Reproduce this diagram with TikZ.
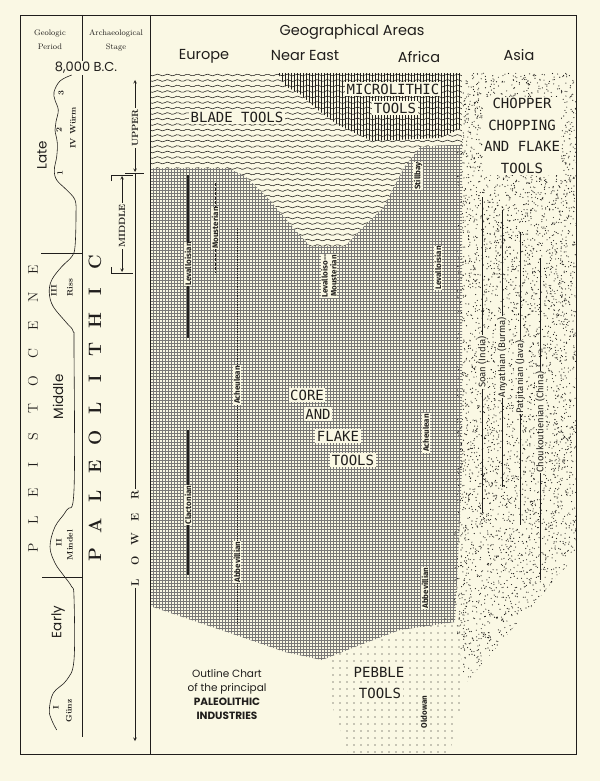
\documentclass[tikz,border=0pt]{standalone}
\usepackage{fontspec}
\usepackage{tikz}
\usetikzlibrary{calc}
\newfontfamily\geofont{Poppins}
\newfontfamily\letterfont{DejaVu Sans Mono}
\newfontfamily\smallsans{Fira Sans}
\definecolor{paper}{RGB}{250,248,228}
\definecolor{ink}{RGB}{32,30,28}
\tikzset{>=stealth}
\tikzset{
  stencil/.style={font=\letterfont\fontsize{14}{21.5}\selectfont, fill=paper, inner sep=1.5pt, align=center, text=ink},
  culture/.style={rotate=90, font=\smallsans\bfseries\fontsize{8}{9}\selectfont, fill=paper, inner sep=0.6pt, text=ink},
  asiaculture/.style={culture, font=\smallsans\fontsize{9.5}{10}\selectfont},
  area/.style={font=\geofont\fontsize{14.5}{15}\selectfont, text=ink},
  spaced/.style={rotate=90, font=\rmfamily\fontsize{14}{14}\selectfont, text=ink},
  period/.style={rotate=90, font=\geofont\fontsize{13.5}{14}\selectfont, text=ink},
  glacial/.style={rotate=90, font=\rmfamily\bfseries\fontsize{8}{8}\selectfont, text=ink, inner sep=0.5pt},
  stage/.style={rotate=90, font=\rmfamily\bfseries\fontsize{9}{9}\selectfont, fill=paper, inner sep=1pt, text=ink},
}
\newcommand\bladeoutline{(150,73) -- (462,73) -- (462,143) -- (420,147) -- (405,166) -- (392,190) -- (383,208) -- (362,228) -- (345,246) -- (310,246) -- (292,226) -- (268,198) -- (245,176) -- (228,168) -- (150,168) -- cycle}

\begin{document}
\begin{tikzpicture}[x=1pt,y=-1pt]
    \fill[paper] (0,0) rectangle (600,781);
    \useasboundingbox (0,0) rectangle (600,781);

    % Asia stipple
    \begin{scope}
        \clip (456,73) -- (576,73) -- (576,555) -- (465,684) -- (452,600) -- (456,480) -- cycle;
        \pgfmathsetseed{11}
        \foreach \i in {1,...,5200}
            \fill[ink] ({453+124*rnd},{73+612*rnd}) circle (0.58);
    \end{scope}

    % core and flake grid
    \begin{scope}
        \clip (150,150) -- (462,145) -- (462,470) -- (458,560) -- (455,622) -- (400,630) -- (360,645) -- (322,660) -- (285,652) -- (230,633) -- (150,606) -- cycle;
        \foreach \gx in {150,153,...,465}
            \draw[ink!60, line width=0.3] (\gx,145) -- (\gx,662);
        \foreach \gy in {145,148,...,662}
            \draw[ink!60, line width=0.3] (150,\gy) -- (465,\gy);
    \end{scope}

    % pebble dots
    \begin{scope}
        \clip (328,656) -- (380,640) -- (462,612) -- (464,690) -- (450,753) -- (348,753) -- (330,700) -- cycle;
        \foreach \dx in {326,333,...,466}
            \foreach \dy in {612,619,...,753}
                \fill[ink] (\dx,\dy) circle (0.7);
    \end{scope}

    % blade tools waves
    \fill[paper] \bladeoutline;
    \begin{scope}
        \clip \bladeoutline;
        \foreach \wy in {75,80.5,...,248}
            \draw[ink, line width=0.55] plot[domain=0:312, samples=130, smooth] ({150+\x},{\wy+0.9*sin(36*\x)});
    \end{scope}

    % microlithic lines
    \begin{scope}
        \clip (278,73) -- (462,73) -- (462,128) -- (440,138) -- (372,141) -- (338,125) -- (318,110) -- (300,94) -- (285,86) -- cycle;
        \foreach \vx in {279,282,...,462}
            \draw[ink, line width=0.5] (\vx,73) -- (\vx,142);
    \end{scope}

    % tool labels
    \node[stencil] (blade) at (237,117) {BLADE TOOLS};
    \node[stencil] (micro) at (393,89) {MICROLITHIC};
    \node[stencil] (microtools) at (395,108) {TOOLS};
    \node[stencil] (chopper) at (522,136) {CHOPPER\\CHOPPING\\AND FLAKE\\TOOLS};
    \node[stencil] (core) at (307,395) {CORE};
    \node[stencil] (coreand) at (318,414) {AND};
    \node[stencil] (coreflake) at (338,436) {FLAKE};
    \node[stencil] (coretools) at (353,460) {TOOLS};
    \node[stencil] (pebble) at (379,672) {PEBBLE};
    \node[stencil] (pebbletools) at (380,693) {TOOLS};

    % Europe
    \node[culture] (levE) at (188,264) {Levalloisian};
    \coordinate (levEtop) at (188,175);
    \coordinate (levEbot) at (188,338);
    \draw[ink, line width=1.4] (levEtop) -- (levE.east);
    \draw[ink, line width=1.4] (levE.west) -- (levEbot);
    \node[culture] (mouE) at (215,228) {Mousterian};
    \coordinate (mouEtop) at (215,183);
    \coordinate (mouEbot) at (215,273);
    \draw[ink, line width=0.8, dash pattern=on 3pt off 1.5pt] (mouEtop) -- (mouE.east);
    \draw[ink, line width=0.8, dash pattern=on 3pt off 1.5pt] (mouE.west) -- (mouEbot);
    \node[culture] (achE) at (237,385) {Acheulean};
    \node[culture] (abbE) at (237,562) {Abbevillian};
    \coordinate (achEtop) at (237,228);
    \coordinate (abbEbot) at (237,623);
    \draw[ink, line width=0.8, dash pattern=on 1pt off 0.8pt] (achEtop) -- (achE.east);
    \draw[ink, line width=0.8, dash pattern=on 1pt off 0.8pt] (achE.west) -- (abbE.east);
    \draw[ink, line width=0.8, dash pattern=on 1pt off 0.8pt] (abbE.west) -- (abbEbot);
    \node[culture] (claE) at (188,505) {Clactonian};
    \coordinate (claEtop) at (188,430);
    \coordinate (claEbot) at (188,575);
    \draw[ink, line width=1.4] (claEtop) -- (claE.east);
    \draw[ink, line width=1.4] (claE.west) -- (claEbot);

    % Near East
    \node[culture, align=center, font=\smallsans\bfseries\fontsize{8}{9}\selectfont] (levmou) at (329,276) {Levalloiso--\\Mousterian};

    % Africa
    \node[culture] (stillbay) at (418,176) {Stillbay};
    \node[culture] (levA) at (438,268) {Levalloisian};
    \node[culture] (achA) at (426,433) {Acheulean};
    \node[culture] (abbA) at (425,588) {Abbevillian};
    \node[culture] (oldowan) at (424,712) {Oldowan};

    % Asia
    \node[asiaculture] (soan) at (482,362) {Soan (India)};
    \coordinate (soantop) at (482,197);
    \coordinate (soanbot) at (482,513);
    \draw[ink, line width=0.6] (soantop) -- (soan.east);
    \draw[ink, line width=0.6] (soan.west) -- (soanbot);
    \node[asiaculture] (anyath) at (502,357) {Anyathian (Burma)};
    \coordinate (anyathtop) at (502,210);
    \coordinate (anyathbot) at (502,487);
    \draw[ink, line width=0.6] (anyathtop) -- (anyath.east);
    \draw[ink, line width=0.6] (anyath.west) -- (anyathbot);
    \node[asiaculture] (patjit) at (520,377) {Patjitanian (Java)};
    \coordinate (patjittop) at (520,232);
    \coordinate (patjitbot) at (520,525);
    \draw[ink, line width=0.6] (patjittop) -- (patjit.east);
    \draw[ink, line width=0.6] (patjit.west) -- (patjitbot);
    \node[asiaculture] (chouk) at (540,422) {Choukoutienian (China)};
    \coordinate (chouktop) at (540,258);
    \coordinate (choukbot) at (540,580);
    \draw[ink, line width=0.6] (chouktop) -- (chouk.east);
    \draw[ink, line width=0.6] (chouk.west) -- (choukbot);

    \node[font=\geofont\fontsize{10.5}{14}\selectfont, align=center, text=ink] (outline) at (227,695) {Outline Chart\\of the principal\\\textbf{PALEOLITHIC}\\\textbf{INDUSTRIES}};

    % frame and columns
    \draw[ink, line width=0.9] (20,15) rectangle (576,754);
    \draw[ink, line width=0.8] (82,15) -- (82,737);
    \draw[ink, line width=0.8] (150,15) -- (150,754);
    \draw[ink, line width=0.7] (41,253) -- (82,253);
    \draw[ink, line width=0.7] (42,577) -- (82,577);

    % headers
    \node[font=\rmfamily\fontsize{8}{14}\selectfont, align=center, text=ink] (geohead) at (50,40) {Geologic\\Period};
    \node[font=\rmfamily\fontsize{8}{14}\selectfont, align=center, text=ink] (archhead) at (116,40) {Archaeological\\Stage};
    \node[area] (geoareas) at (352,32) {Geographical Areas};
    \node[area] (europe) at (204,56) {Europe};
    \node[area] (neareast) at (305,56) {Near East};
    \node[area] (africa) at (419,57) {Africa};
    \node[area] (asia) at (519,55) {Asia};
    \node[font=\geofont\fontsize{13}{13}\selectfont, fill=paper, inner sep=1pt, text=ink] (bc) at (86,68) {8,000 B.C.};

    % glacial curve
    \draw[ink, line width=0.6] plot[smooth, tension=0.6] coordinates {(71.7,75) (60,81) (54,92) (55,100) (58.3,110) (56,121.7) (55,130) (57.3,143) (56.7,156.7) (54.3,170) (56.7,180) (66.7,190) (75,200) (76,215) (75,246.7) (71.7,256.7) (61.7,266.7) (51.7,280) (49.3,293) (53.3,306.7) (66.7,323) (73.3,331.7) (74,350) (74,490) (66.7,510) (55,526.7) (50,546.7) (55,563) (63.3,575) (71.7,586.7) (74,597) (74,660) (66.7,680) (53.3,693) (49.3,710) (51.7,720) (56.7,730)};
    \node[glacial] (w3) at (61,93) {3};
    \node[glacial] (w2) at (59,130) {2};
    \node[glacial] (w1) at (60,173) {1};
    \node[glacial] (wurm) at (73,128) {IV Würm};
    \node[glacial] (rissno) at (54,291) {III};
    \node[glacial] (riss) at (70,288) {Riss};
    \node[glacial] (mindelno) at (59,543) {II};
    \node[glacial] (mindel) at (70,545) {Mindel};
    \node[glacial] (gunzno) at (56,708) {I};
    \node[glacial] (gunz) at (69,711) {Günz};

    \node[period] (late) at (42,155) {Late};
    \node[period] (middle) at (58,397) {Middle};
    \node[period] (early) at (58,622) {Early};

    \foreach \ch [count=\k from 0] in {P,L,E,I,S,T,O,C,E,N,E}
        \node[spaced] (pl\k) at (33,{548-27.8*\k}) {\ch};
    \foreach \ch [count=\k from 0] in {P,A,L,E,O,L,I,T,H,I,C}
        \node[spaced, font=\rmfamily\bfseries\fontsize{18}{18}\selectfont] (pa\k) at (95,{555-29.3*\k}) {\ch};

    % stages
    \node[stage] (upper) at (135,128) {UPPER};
    \coordinate (uppertop) at (135,80);
    \coordinate (upperbot) at (135,172);
    \draw[->, ink, line width=0.6] (upper.east) -- (uppertop);
    \draw[->, ink, line width=0.6] (upper.west) -- (upperbot);
    \draw[ink, line width=0.6] (125,173) -- (144,173);

    \node[stage] (middlestage) at (122,226) {MIDDLE};
    \coordinate (middletop) at (122,176);
    \coordinate (middlebot) at (122,272);
    \draw[->, ink, line width=0.6] (middlestage.east) -- (middletop);
    \draw[->, ink, line width=0.6] (middlestage.west) -- (middlebot);
    \draw[ink, line width=0.6] (111,181) -- (111,175) -- (133,175);
    \draw[ink, line width=0.6] (111,267) -- (111,273) -- (133,273);

    \foreach \ch [count=\k from 0] in {L,O,W,E,R}
        \node[stage, font=\rmfamily\bfseries\fontsize{11}{11}\selectfont] (lw\k) at (135,{583-22*\k}) {\ch};
    \coordinate (lowertop) at (135,174);
    \coordinate (lowerbot) at (135,741);
    \draw[ink, line width=0.6] (lowertop) -- (lw4.east);
    \draw[->, ink, line width=0.6] (lw0.west) -- (lowerbot);
\end{tikzpicture}
\end{document}
